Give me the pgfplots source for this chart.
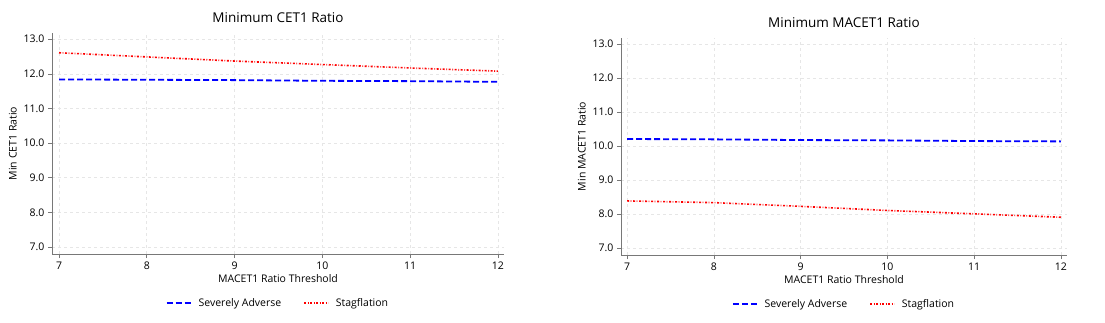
\documentclass[border=0pt]{standalone}
\usepackage{fontspec}
\setmainfont{Open Sans}
\usepackage{pgfplots}
\pgfplotsset{compat=1.18}

\definecolor{axgray}{RGB}{120,120,120}
\definecolor{gridgray}{RGB}{230,230,230}

\pgfplotsset{
  ratiostyle/.style={
    scale only axis,
    axis lines*=left,
    axis line style={axgray, line width=0.9pt},
    tick style={axgray, line width=0.7pt},
    tick align=outside,
    major tick length=4pt,
    xtick={7,8,9,10,11,12},
    ytick={7,8,9,10,11,12,13},
    ymin=6.8, ymax=13.18,
    grid=major,
    grid style={gridgray, dashed, line width=0.6pt},
    yticklabel style={/pgf/number format/.cd, fixed, fixed zerofill, precision=1},
    /pgf/number format/assume math mode=true,
    tick label style={font=\fontsize{10.5}{12}\selectfont},
    label style={font=\fontsize{10.5}{12}\selectfont},
    title style={font=\fontsize{13.5}{15}\selectfont, at={(axis description cs:0.5,1)}, anchor=south, yshift=1pt},
    xlabel={MACET1 Ratio Threshold},
    xlabel style={yshift=2pt},
    legend columns=2,
    legend style={draw=none, fill=none, font=\fontsize{10.5}{12}\selectfont,
      at={(axis description cs:0.5,0)}, anchor=north, yshift=-40pt,
      /tikz/every odd column/.append style={column sep=5pt},
      /tikz/every even column/.append style={column sep=20pt}},
    legend image code/.code={\draw[#1] (0pt,0pt) -- (24pt,0pt);},
  },
  sa/.style={color=blue, draw=blue, line width=1.8pt, dash pattern=on 6pt off 3pt},
  sf/.style={color=red, draw=red, line width=1.6pt, dash pattern=on 2pt off 1.6pt on 0.8pt off 1.6pt},
}

\begin{document}
\begin{tikzpicture}
\useasboundingbox (0pt,0pt) rectangle (1105pt,322pt);

\begin{axis}[ratiostyle,
  at={(52pt,68pt)}, anchor=south west,
  width=452pt, height=221pt,
  xmin=6.92, xmax=12.07,
  title={Minimum CET1 Ratio},
  ylabel={Min CET1 Ratio},
]
\addplot[sa] coordinates {(7,11.84)(8,11.83)(9,11.82)(10,11.80)(11,11.79)(12,11.77)};
\addlegendentry{Severely Adverse}
\addplot[sf] coordinates {(7,12.61)(8,12.49)(9,12.37)(10,12.27)(11,12.17)(12,12.08)};
\addlegendentry{Stagflation}
\end{axis}

\begin{axis}[ratiostyle,
  at={(621pt,67pt)}, anchor=south west,
  width=446pt, height=217pt,
  xmin=6.93, xmax=12.07,
  title={Minimum MACET1 Ratio},
  ylabel={Min MACET1 Ratio},
]
\addplot[sa] coordinates {(7,10.21)(8,10.20)(9,10.18)(10,10.17)(11,10.15)(12,10.14)};
\addlegendentry{Severely Adverse}
\addplot[sf] coordinates {(7,8.39)(8,8.34)(9,8.23)(10,8.11)(11,8.01)(12,7.91)};
\addlegendentry{Stagflation}
\end{axis}
\end{tikzpicture}
\end{document}
